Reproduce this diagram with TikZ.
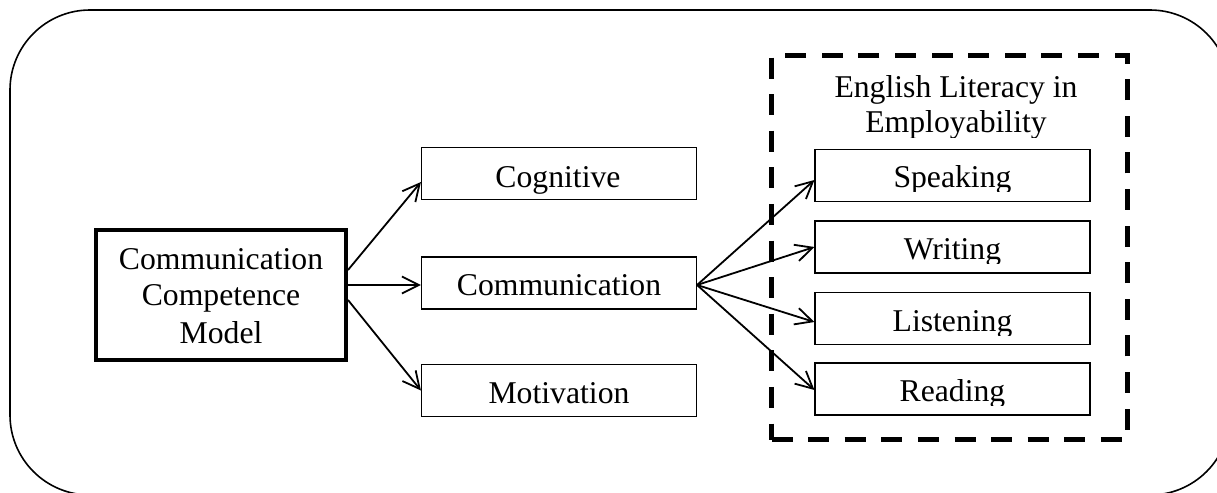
\documentclass[tikz,border=0pt]{standalone}
\usepackage{fontspec}
\setmainfont{Liberation Serif}
\usetikzlibrary{arrows.meta}
\begin{document}
\begin{tikzpicture}[x=0.5pt,y=-0.5pt,
  box/.style={draw, line width=0.55pt, minimum width=137.5pt, minimum height=26pt, inner sep=0pt},
  lbl/.style={anchor=base, inner sep=0pt, font=\fontsize{15.85}{18}\selectfont},
  arr/.style={-{Straight Barb[length=8.5pt,width=8.5pt,line width=0.9pt]}, line width=0.9pt}]
\useasboundingbox (0,0) rectangle (1217,493);
% outer frame
\draw[line width=0.8pt, rounded corners=40pt] (10,10) rectangle (1230,495);
% dashed group
\node[draw, line width=2.5pt, dash pattern=on 10.5pt off 7.8pt, minimum width=178pt, minimum height=192pt, inner sep=0pt] (grp) at (949.5,247.5) {};
% boxes
\node[draw, line width=2pt, minimum width=125pt, minimum height=65pt, inner sep=0pt] (ccm) at (221,295) {};
\node[box] (cog) at (559,173.5) {};
\node[box] (com) at (559,283) {};
\node[box] (mot) at (559,390.5) {};
\node[box] (spk) at (952.5,175.5) {};
\node[box] (wri) at (952.5,247) {};
\node[box] (lis) at (952.5,318.5) {};
\node[box] (rea) at (952.5,389) {};
% labels
\node[lbl] (ccm1) at (221,269) {Communication};
\node[lbl] (ccm2) at (221,305) {Competence};
\node[lbl] (ccm3) at (221,343) {Model};
\node[lbl] (cogt) at (558,187) {Cognitive};
\node[lbl] (comt) at (559,295) {Communication};
\node[lbl] (mott) at (559,403) {Motivation};
\begin{scope}
\clip (769,53) rectangle (1130,137);
\node[lbl] (el1) at (956,97) {English Literacy in};
\node[lbl] (el2) at (956,132) {Employability};
\end{scope}
\begin{scope}
\clip (814,149) rectangle (1091,191);
\node[lbl] (spkt) at (952.5,187) {Speaking};
\end{scope}
\begin{scope}
\clip (814,221) rectangle (1091,263);
\node[lbl] (writ) at (952.5,259) {Writing};
\end{scope}
\begin{scope}
\clip (814,293) rectangle (1091,335);
\node[lbl] (list) at (952.5,331) {Listening};
\end{scope}
\begin{scope}
\clip (814,363) rectangle (1091,405);
\node[lbl] (reat) at (952.5,401) {Reading};
\end{scope}
% arrows
\draw[arr] ([yshift=12.5pt]ccm.east) -- ([yshift=-4.25pt]cog.west);
\draw[arr] ([yshift=5pt]ccm.east) -- ([yshift=-1pt]com.west);
\draw[arr] ([yshift=-2.5pt]ccm.east) -- (mot.west);
\draw[arr] ([yshift=-1pt]com.east) -- ([yshift=-2.25pt]spk.west);
\draw[arr] ([yshift=-1pt]com.east) -- (wri.west);
\draw[arr] ([yshift=-1pt]com.east) -- ([yshift=-1.75pt]lis.west);
\draw[arr] ([yshift=-1pt]com.east) -- ([yshift=-0.5pt]rea.west);
\end{tikzpicture}
\end{document}
